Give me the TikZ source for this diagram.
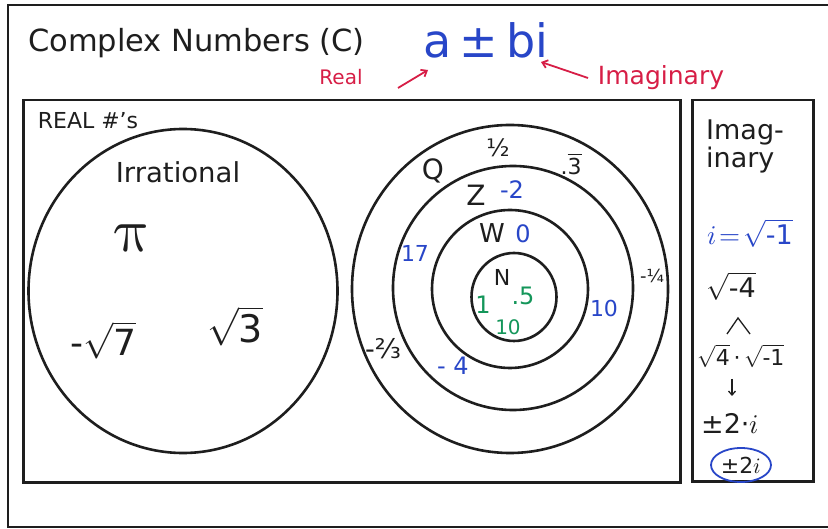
\documentclass[tikz,border=0pt]{standalone}
\usepackage{fontspec}
\usepackage{unicode-math}
\setmainfont{DejaVu Sans}
\setmathfont{Latin Modern Math}
\usetikzlibrary{shapes.geometric,arrows.meta}
\definecolor{penblue}{RGB}{40,70,200}
\definecolor{penred}{RGB}{215,30,70}
\definecolor{pengreen}{RGB}{20,150,90}
\definecolor{ink}{RGB}{30,30,30}
\newcommand{\myfs}[1]{\fontsize{#1}{#1}\selectfont}
\begin{document}
\begin{tikzpicture}[x=1pt,y=-1pt,
  frameline/.style={draw=ink,line width=2.5pt},
  boxnode/.style={draw=ink,line width=2.5pt,anchor=north west,inner sep=0pt},
  ring/.style={draw=ink,ellipse,line width=2.6pt,inner sep=0pt},
  lbl/.style={inner sep=0pt,text=ink},
  bluetxt/.style={inner sep=0pt,text=penblue},
  greentxt/.style={inner sep=0pt,text=pengreen},
  redtxt/.style={inner sep=0pt,text=penred},
  redarrow/.style={draw=penred,line width=1.8pt,-{Straight Barb[length=5pt,width=8pt]}},
  inkline/.style={draw=ink,line width=1.3pt}]
\useasboundingbox (0,0) rectangle (828,529);
\fill[white] (0,0) rectangle (828,529);

% outer frame (open on the right)
\draw[frameline] (828,5) -- (8,5) -- (8,527) -- (828,527);

% title
\node[lbl,anchor=west] (title) at (28,43) {\myfs{30.5}Complex Numbers (C)};
\node[bluetxt] (abi) at (486,40) {\myfs{46}a\,±\,bi};
\node[redtxt] (real) at (341,77) {\myfs{20}Real};
\node[redtxt] (imagword) at (661,78) {\myfs{25}Imaginary};
\coordinate (realtail) at (398,88);
\coordinate (realhead) at (428,70);
\coordinate (imtail) at (588,78);
\coordinate (imhead) at (541,62);
\draw[redarrow] (realtail) -- (realhead);
\draw[redarrow] (imtail) -- (imhead);

% boxes
\node[boxnode,minimum width=657pt,minimum height=382pt] (realbox) at (22,99) {};
\node[boxnode,minimum width=121pt,minimum height=381pt] (imagbox) at (691,99) {};

% real box contents
\node[lbl] (realhdr) at (88,121) {\myfs{22}REAL \#'s};
\node[ring,minimum width=309pt,minimum height=324pt] (irr) at (183,291) {};
\node[lbl] (irrlbl) at (178,172) {\myfs{27.5}Irrational};
\node[lbl] (pi) at (133,238) {\myfs{62}$\symup{\pi}$};
\node[lbl] (sqseven) at (103,340) {\myfs{36}-$\sqrt{\mbox{7}}$};
\node[lbl] (sqthree) at (235,326) {\myfs{38}$\sqrt{\mbox{3}}$};

% rational rings
\node[ring,minimum width=316pt,minimum height=328pt] (ringQ) at (510,289) {};
\node[ring,minimum width=240pt,minimum height=244pt] (ringZ) at (513,288) {};
\node[ring,minimum width=156pt,minimum height=158pt] (ringW) at (510,289) {};
\node[ring,minimum width=85pt,minimum height=88pt] (ringN) at (514,297) {};

\node[lbl] (Q) at (433,171) {\myfs{28}Q};
\node[lbl] (half) at (498,148) {\myfs{24}½};
\node[lbl] (third) at (571,164) {\myfs{22}.$\overline{\mbox{3}}$};
\node[lbl] (Z) at (476,195) {\myfs{28}Z};
\node[bluetxt] (mtwo) at (512,190) {\myfs{24}-2};
\node[lbl] (W) at (492,233) {\myfs{26}W};
\node[bluetxt] (zero) at (523,234) {\myfs{24}0};
\node[lbl] (N) at (502,277) {\myfs{22}N};
\node[greentxt] (one) at (483,305) {\myfs{24}1};
\node[greentxt] (pfive) at (523,296) {\myfs{24}.5};
\node[greentxt] (gten) at (508,327) {\myfs{20}10};
\node[bluetxt] (seventeen) at (415,253) {\myfs{22}17};
\node[bluetxt] (bten) at (604,308) {\myfs{22}10};
\node[lbl] (mquarter) at (652,276) {\myfs{18}-¼};
\node[lbl] (mtwothirds) at (383,349) {\myfs{27}-⅔};
\node[bluetxt] (mfour) at (453,366) {\myfs{24}- 4};

% imaginary box contents
\node[lbl,anchor=north west,align=left] (imaglbl) at (706,120) {\myfs{27}Imag-\\\myfs{27}inary};
\node[bluetxt] (idef) at (750,233) {\myfs{27}$\symit{i}\!=\!\sqrt{\mbox{-1}}$};
\node[lbl] (sqmfour) at (731,286) {\myfs{27}$\sqrt{\mbox{-4}}$};
\node[lbl] (split) at (741,356) {\myfs{22}$\sqrt{\mbox{4}}\mbox{\,·\,}\sqrt{\mbox{-1}}$};
\node[lbl] (pmtwoi) at (730,424) {\myfs{27}±2·$\symit{i}$};
\node[lbl] (ans) at (741,465) {\myfs{22}±2$\symit{i}$};
\draw[draw=penblue,line width=1.8pt] (ans) ellipse (30pt and 17pt);
\coordinate (vl) at (727,334);
\coordinate (vtop) at (738,318);
\coordinate (vr) at (750,334);
\draw[inkline] (vl) -- (vtop) -- (vr);
\coordinate (dtop) at (732,379);
\coordinate (dbot) at (732,396);
\draw[inkline,-{Straight Barb[length=4pt,width=7pt]}] (dtop) -- (dbot);
\end{tikzpicture}
\end{document}
